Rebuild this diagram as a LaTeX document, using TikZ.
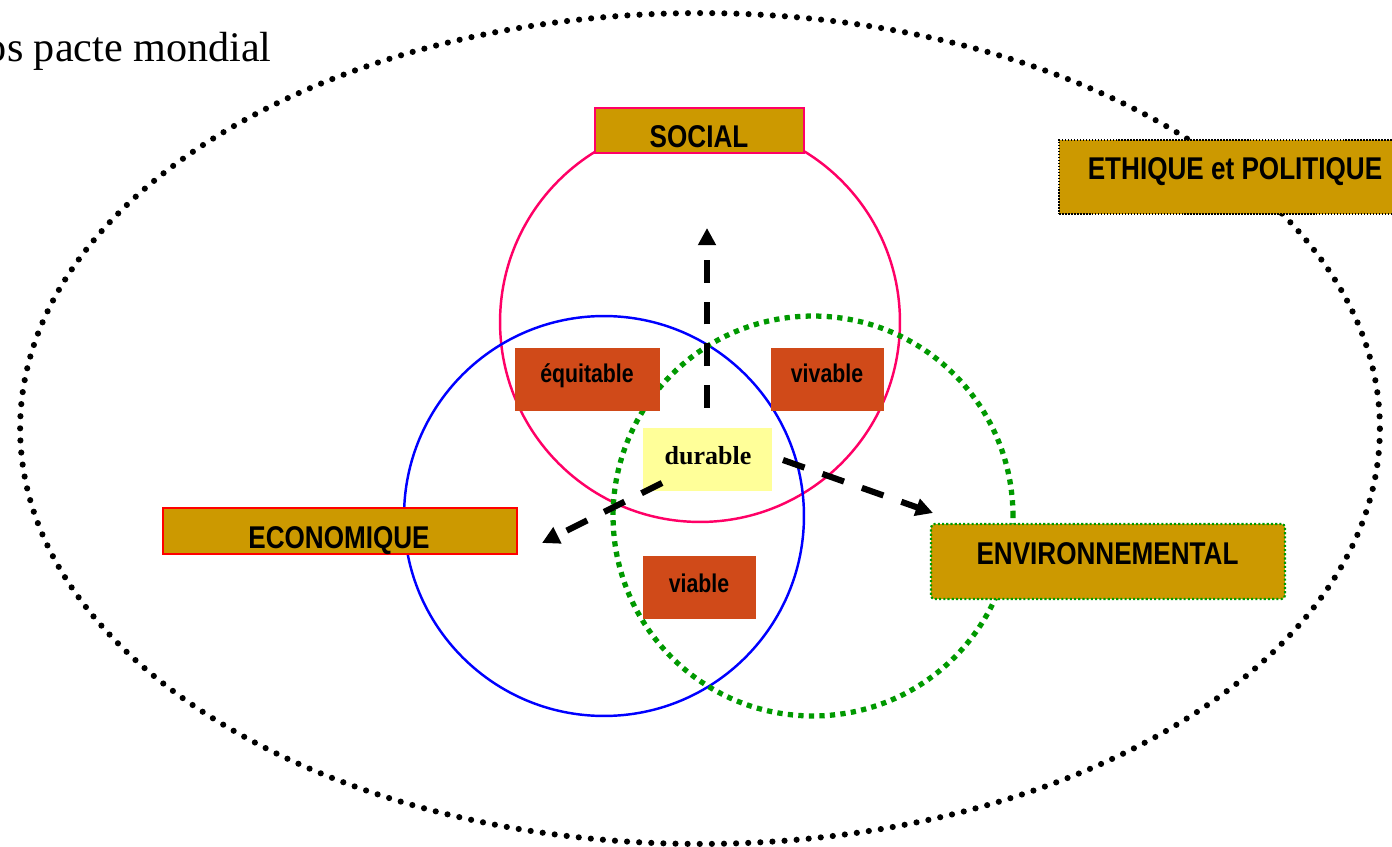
\documentclass[tikz,border=0pt]{standalone}
\usepackage{fontspec}
\setmainfont{Liberation Serif}
\newfontfamily\lblfont{Liberation Sans}[FakeStretch=0.83]
\usetikzlibrary{arrows.meta}
\definecolor{gold}{RGB}{204,153,0}
\definecolor{rust}{RGB}{208,74,25}
\definecolor{paleyellow}{RGB}{255,255,153}
\definecolor{rosered}{RGB}{255,0,102}
\definecolor{dkgreen}{RGB}{0,153,0}
\begin{document}
\begin{tikzpicture}[x=0.02cm,y=-0.02cm,
  bigdots/.style={line width=3.5pt, line cap=round, dash pattern=on 0pt off 6.9pt},
  greendots/.style={draw=dkgreen, line width=3pt, dash pattern=on 3pt off 3pt},
  goldbox/.style={rectangle, inner sep=0pt, fill=gold},
  rustbox/.style={rectangle, inner sep=0pt, fill=rust, minimum height=1.26cm},
  biglab/.style={font=\lblfont\bfseries\fontsize{17.9}{20}\selectfont, inner sep=0pt, anchor=base},
  smalllab/.style={font=\lblfont\bfseries\fontsize{14.6}{17}\selectfont, inner sep=0pt, anchor=base},
  dasharrow/.style={line width=3.5pt, dash pattern=on 13pt off 10.8pt, -{Triangle[length=9.8pt,width=9.8pt]}},
]
\useasboundingbox (0,0) rectangle (1392,847);
% outer ellipse
\draw[bigdots] (700,428.5) ellipse [x radius=13.6cm, y radius=8.31cm];
\node[font=\fontsize{24}{28}\selectfont, inner sep=0pt, anchor=base east] (pacte) at (272,62) {os pacte mondial};
% ethique box
\node[goldbox, draw=black, line width=0.9pt, dash pattern=on 0.9pt off 0.8pt, minimum width=7.04cm, minimum height=1.48cm] (ethB) at (1235,177) {};
\node[biglab] (ethT) at (1235,180) {ETHIQUE et POLITIQUE};
% circles
\draw[rosered, line width=1.4pt] (700,322) circle [radius=4cm];
\node[goldbox, draw=rosered, line width=1.2pt, minimum width=4.18cm, minimum height=0.9cm] (socB) at (699.5,130.5) {};
\node[biglab] (socT) at (699,148) {SOCIAL};
\draw[blue, line width=1.4pt] (604,516) circle [radius=4cm];
\draw[greendots] (813,516) circle [radius=4cm];
% economique / environnemental
\node[goldbox, draw=red, line width=1.2pt, minimum width=7.08cm, minimum height=0.92cm] (ecoB) at (340,531) {};
\node[biglab] (ecoT) at (339,548) {ECONOMIQUE};
\node[goldbox, draw=dkgreen, line width=1.2pt, dash pattern=on 1.2pt off 1.2pt, rounded corners=2pt, minimum width=7.08cm, minimum height=1.5cm] (envB) at (1108,561.5) {};
\node[biglab] (envT) at (1107.5,564) {ENVIRONNEMENTAL};
% inner boxes
\node[rustbox, minimum width=2.9cm] (equB) at (587.5,379.5) {};
\node[smalllab] (equT) at (587,383) {équitable};
\node[rustbox, minimum width=2.26cm] (vivB) at (827.5,379.5) {};
\node[smalllab] (vivT) at (827,383) {vivable};
\node[rustbox, minimum width=2.26cm] (viaB) at (699.5,587.5) {};
\node[smalllab] (viaT) at (699,592) {viable};
\node[rectangle, inner sep=0pt, fill=paleyellow, minimum width=2.58cm, minimum height=1.26cm] (durB) at (707.5,459.5) {};
\node[font=\bfseries\fontsize{14.8}{17}\selectfont, inner sep=0pt, anchor=base] (durT) at (708,464) {durable};
% arrows
\coordinate (upS) at (707,408);
\coordinate (upE) at (707,228);
\coordinate (leS) at (662,483);
\coordinate (leE) at (542,543);
\coordinate (riS) at (783,460);
\coordinate (riE) at (933,513);
\draw[dasharrow] (upS) -- (upE);
\draw[dasharrow] (leS) -- (leE);
\draw[dasharrow] (riS) -- (riE);
\end{tikzpicture}
\end{document}
